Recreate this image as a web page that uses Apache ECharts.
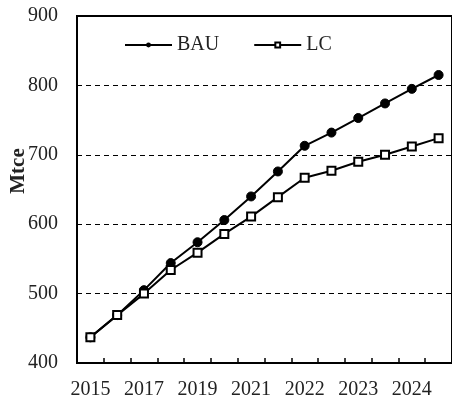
<!DOCTYPE html>
<html>
<head>
<meta charset="utf-8">
<script src="https://cdn.jsdelivr.net/npm/echarts@6/dist/echarts.min.js"></script>
<style>
  html, body { margin: 0; padding: 0; background: #fff; }
  #chart { width: 452px; height: 403px; }
</style>
</head>
<body>
<div id="chart"></div>
<script>
// tick labels shown under every other point, as in the source figure
var xLabels = ['2015', '', '2017', '', '2019', '', '2021', '', '2022', '', '2023', '', '2024', '']
var bau = [437, 469, 505, 544, 574, 606, 640, 676, 713, 732, 753, 774, 795, 815]
var lc = [437, 469, 500, 534, 559, 586, 611, 639, 667, 677, 690, 700, 712, 724]

var font = 'Liberation Serif'
var myChart = echarts.init(document.getElementById('chart'))
myChart.setOption({
  backgroundColor: '#fff',
  animation: false,
  grid: {
    show: true,
    left: 77,
    right: -5,
    top: 16,
    bottom: 40,
    borderColor: '#000',
    borderWidth: 2
  },
  legend: {
    left: 119,
    top: 30,
    itemWidth: 47,
    itemHeight: 6,
    itemGap: 34,
    textStyle: {
      fontFamily: font,
      fontSize: 20,
      color: '#222'
    },
    data: ['BAU', 'LC']
  },
  graphic: [{
    type: 'text',
    x: 19,
    y: 171,
    rotation: Math.PI / 2,
    style: {
      text: 'Mtce',
      fontFamily: font,
      fontSize: 21,
      fontWeight: 'bold',
      fill: '#222',
      align: 'center',
      verticalAlign: 'middle'
    }
  }],
  xAxis: {
    type: 'category',
    data: xLabels,
    boundaryGap: true,
    axisLine: {
      lineStyle: { color: '#000', width: 2 }
    },
    axisTick: {
      show: true,
      inside: true,
      length: 5,
      interval: 0,
      lineStyle: { color: '#000', width: 1.5 }
    },
    axisLabel: {
      interval: 0,
      margin: 17,
      fontFamily: font,
      fontSize: 20,
      color: '#222'
    },
    splitLine: { show: false }
  },
  yAxis: {
    type: 'value',
    min: 400,
    max: 900,
    interval: 100,
    axisLine: {
      show: true,
      lineStyle: { color: '#000', width: 2 }
    },
    axisTick: { show: false },
    axisLabel: {
      margin: 19,
      fontFamily: font,
      fontSize: 20,
      color: '#222'
    },
    splitLine: {
      show: true,
      lineStyle: { color: '#000', type: [5, 4], width: 1 }
    }
  },
  series: [
    {
      name: 'BAU',
      type: 'line',
      data: bau,
      symbol: 'circle',
      symbolSize: 9,
      lineStyle: { color: '#000', width: 2 },
      itemStyle: { color: '#000', borderColor: '#000' }
    },
    {
      name: 'LC',
      type: 'line',
      data: lc,
      symbol: 'rect',
      symbolSize: 8,
      lineStyle: { color: '#000', width: 2 },
      itemStyle: { color: '#fff', borderColor: '#000', borderWidth: 2 }
    }
  ]
})
</script>
</body>
</html>
